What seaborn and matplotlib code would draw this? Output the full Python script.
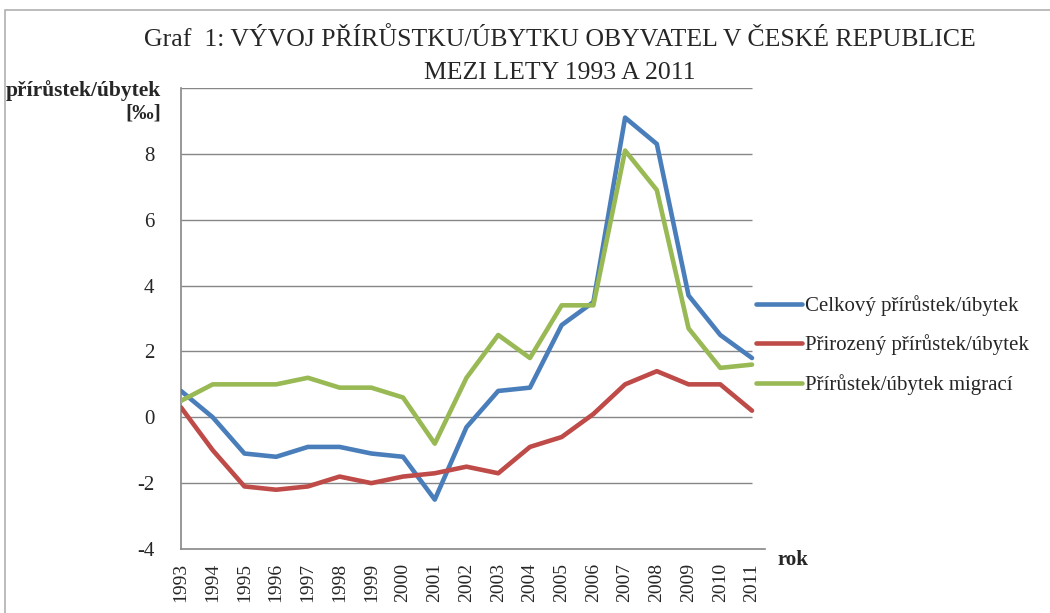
import pandas as pd
import seaborn as sns
import matplotlib.pyplot as plt
from matplotlib.patches import Rectangle

# data
years = list(range(1993, 2012))
celkovy = [0.8, 0.0, -1.1, -1.2, -0.9, -0.9, -1.1, -1.2, -2.5, -0.3,
           0.8, 0.9, 2.8, 3.5, 9.1, 8.3, 3.7, 2.5, 1.8]
prirozeny = [0.3, -1.0, -2.1, -2.2, -2.1, -1.8, -2.0, -1.8, -1.7, -1.5,
             -1.7, -0.9, -0.6, 0.1, 1.0, 1.4, 1.0, 1.0, 0.2]
migrace = [0.5, 1.0, 1.0, 1.0, 1.2, 0.9, 0.9, 0.6, -0.8, 1.2,
           2.5, 1.8, 3.4, 3.4, 8.1, 6.9, 2.7, 1.5, 1.6]
series_names = ['Celkový přírůstek/úbytek', 'Přirozený přírůstek/úbytek',
                'Přírůstek/úbytek migrací']
y_ticks = [-4, -2, 0, 2, 4, 6, 8, 10]
y_labels = ['-4', '-2', '0', '2', '4', '6', '8', '']

df = pd.DataFrame({'rok': years * 3,
                   'hodnota': celkovy + prirozeny + migrace,
                   'serie': [series_names[0]] * 19 + [series_names[1]] * 19 + [series_names[2]] * 19})

sns.set_style('white')
plt.rcParams['font.family'] = ['Liberation Serif', 'DejaVu Serif']

fig = plt.figure(figsize=(10.5, 6.13), dpi=100)
ax = fig.add_axes([181 / 1050, 1 - 549 / 613, (765 - 181) / 1050, (549 - 88) / 613])

# frame round the whole chart
fig.patches.append(Rectangle((5 / 1050, -0.1), 1.2, 1 - 10 / 613 + 0.1, transform=fig.transFigure,
                             fill=False, edgecolor='#b0b0b0', linewidth=1.2))

grid_c = '#868686'
ax.hlines(y_ticks[1:], 1993, 2011, color=grid_c, linewidth=1.0, zorder=1)

palette = ['#4A7EBB', '#BE4B48', '#98B954']
sns.lineplot(data=df, x='rok', y='hodnota', hue='serie', palette=palette,
             linewidth=3.3, ax=ax, zorder=3)

ax.set_xlim(1993, 2011.41)
ax.set_ylim(-4, 10)
ax.set_yticks(y_ticks)
ax.set_yticklabels(y_labels, fontsize=15)
ax.set_xticks(years)
ax.set_xticklabels([str(y) for y in years], rotation=90, fontsize=14)
ax.tick_params(axis='both', direction='out', length=6, width=1, color=grid_c, pad=4)
ax.tick_params(axis='y', pad=13)

for s in ['top', 'right']:
    ax.spines[s].set_visible(False)
for s in ['left', 'bottom']:
    ax.spines[s].set_color(grid_c)
    ax.spines[s].set_linewidth(1.2)

ax.set_xlabel('')
ax.set_ylabel('')

fig.text(161 / 1050, 1 - 80 / 613, 'přírůstek/úbytek\n[‰]', ha='right', va='top',
         fontsize=15.5, fontweight='bold', linespacing=1.15)
fig.text(778 / 1050, 1 - 560 / 613, 'rok', ha='left', va='center',
         fontsize=15, fontweight='bold')

fig.text(560 / 1050, 1 - 40 / 613, 'Graf  1: VÝVOJ PŘÍRŮSTKU/ÚBYTKU OBYVATEL V ČESKÉ REPUBLICE',
         ha='center', va='center', fontsize=18.5)
fig.text(560 / 1050, 1 - 73 / 613, 'MEZI LETY 1993 A 2011',
         ha='center', va='center', fontsize=18.5)

leg = ax.legend(loc='center left', bbox_to_anchor=(737 / 1050, 1 - 345 / 613),
                bbox_transform=fig.transFigure, frameon=False, fontsize=15,
                handlelength=2.2, handletextpad=0.15, labelspacing=0.9)
for line in leg.get_lines():
    line.set_linewidth(3.3)

fig.savefig('out.png', dpi=100)
